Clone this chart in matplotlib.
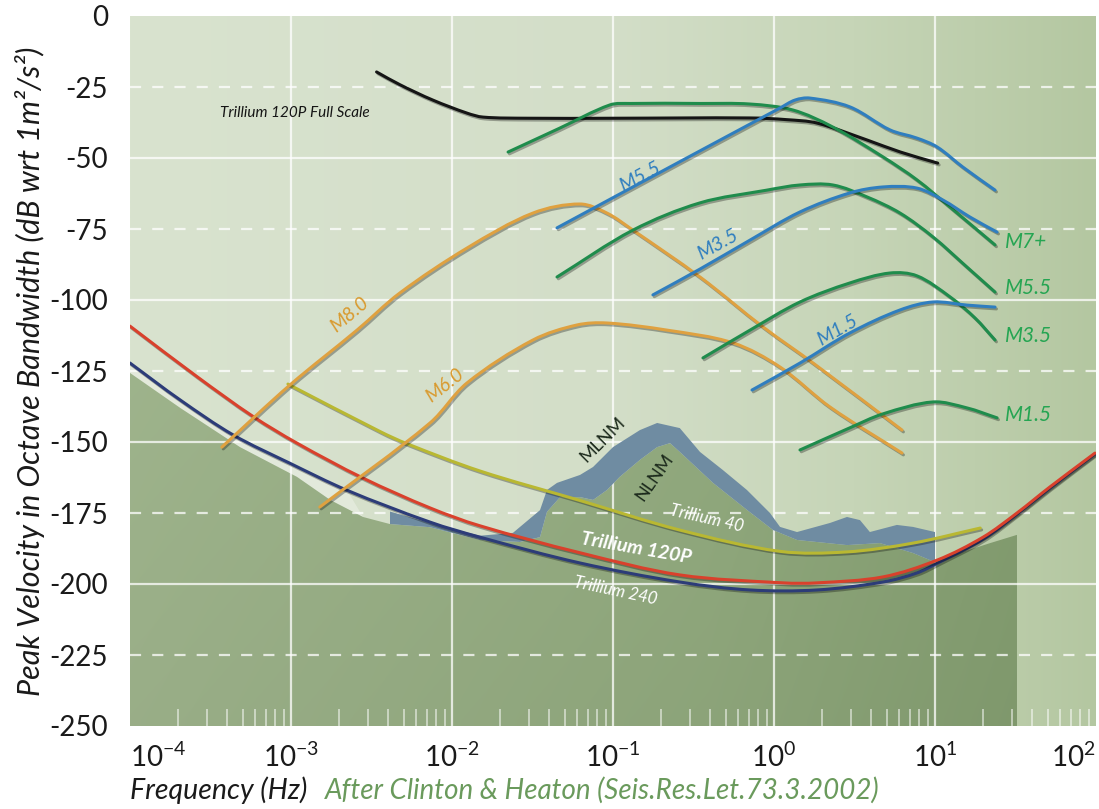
import matplotlib.pyplot as plt
import matplotlib.patheffects as pe
import numpy as np
from matplotlib.colors import to_rgb
from matplotlib.patches import PathPatch, Polygon
from matplotlib.path import Path
from matplotlib.ticker import NullFormatter

plt.rcParams["font.family"] = ["Lato", "DejaVu Sans"]

X_MIN, X_MAX = 1e-4, 1e2
Y_MIN, Y_MAX = -250, 0
Y_TICKS = [0, -25, -50, -75, -100, -125, -150, -175, -200, -225, -250]
Y_TICK_LABELS = ["0", "-25", "-50", "-75", "-100", "-125", "-150", "-175", "-200", "-225", "-250"]
X_DECADES = [1e-4, 1e-3, 1e-2, 1e-1, 1e0, 1e1, 1e2]
X_TICK_LABELS = [r"$\mathregular{10^{-4}}$", r"$\mathregular{10^{-3}}$", r"$\mathregular{10^{-2}}$",
                 r"$\mathregular{10^{-1}}$", r"$\mathregular{10^{0}}$", r"$\mathregular{10^{1}}$",
                 r"$\mathregular{10^{2}}$"]

# Trillium 120P full scale clip level
full_scale_freq = [3.4e-3, 4.75e-3, 7.6e-3, 1.24e-2, 1.56e-2, 3.0e-2, 0.1, 0.71, 1.2, 1.85, 3.8, 6.1, 10.4]
full_scale_db = [-19.7, -24.2, -29.6, -34.2, -35.6, -36.0, -36.0, -35.9, -36.5, -37.7, -43.7, -47.9, -51.8]

# earthquake spectra, green family
green_m7_freq = [0.0223, 0.0462, 0.0958, 0.128, 0.347, 0.71, 1.31, 2.32, 4.75, 7.73, 12.4, 23.6]
green_m7_db = [-47.9, -39.6, -31.3, -30.8, -30.8, -31.0, -33.1, -39.1, -49.6, -57.7, -67.3, -80.6]
green_m55_freq = [0.0449, 0.133, 0.347, 0.906, 1.45, 2.32, 3.78, 6.07, 9.72, 15.8, 23.6]
green_m55_db = [-91.9, -75.4, -65.8, -61.3, -59.5, -59.5, -63.7, -69.4, -77.8, -88.4, -97.2]
green_m35_freq = [0.362, 0.71, 1.45, 2.96, 5.25, 7.73, 12.4, 17.7, 23.6]
green_m35_db = [-120.4, -110.6, -100.7, -94.0, -90.5, -91.5, -98.9, -106.3, -114.1]
green_m15_freq = [1.45, 2.96, 4.75, 9.72, 15.8, 24.3]
green_m15_db = [-152.8, -145.0, -140.1, -135.9, -138.0, -141.5]

# earthquake spectra, blue family
blue_m55_freq = [0.0449, 0.26, 1.09, 1.35, 1.67, 2.96, 5.25, 7.73, 10.3, 14.9, 23.6]
blue_m55_db = [-74.6, -51.3, -32.4, -29.6, -28.9, -32.0, -40.1, -43.0, -46.1, -53.2, -61.3]
blue_m35_freq = [0.177, 0.347, 0.71, 1.45, 2.96, 4.75, 7.73, 11.2, 16.5, 24.3]
blue_m35_db = [-98.2, -89.1, -78.9, -69.0, -62.3, -60.2, -60.6, -64.8, -70.8, -76.1]
blue_m15_freq = [0.73, 1.45, 2.96, 6.07, 9.72, 15.8, 23.6]
blue_m15_db = [-131.7, -122.2, -111.6, -103.5, -100.7, -101.8, -102.5]

# teleseismic events
orange_m80_freq = [3.72e-4, 9.86e-4, 2.57e-3, 4.75e-3, 1.24e-2, 3.18e-2, 6.24e-2, 9.18e-2, 0.133, 0.347,
                   0.855, 1.75, 6.24]
orange_m80_db = [-151.8, -129.9, -110.6, -97.5, -81.7, -69.4, -66.2, -69.4, -75.4, -91.9, -109.5, -122.2,
                 -145.8]
orange_m60_freq = [1.51e-3, 7.3e-3, 1.24e-2, 3.18e-2, 5.97e-2, 9.18e-2, 0.216, 0.556, 1.09, 2.23, 6.24]
orange_m60_db = [-172.9, -143.3, -129.2, -114.1, -108.8, -108.1, -110.6, -115.1, -123.6, -137.7, -153.9]

# instrument self-noise
t120_freq = [1e-4, 2.61e-4, 5.81e-4, 1.09e-3, 2.8e-3, 7.3e-3, 1.49e-2, 6.24e-2, 0.26, 1.14, 1.85, 4.75,
             10.4, 19.9, 32.3, 51.8, 98.6]
t120_db = [-109.2, -127.0, -141.0, -150.4, -162.7, -173.2, -179.5, -189.0, -196.8, -199.6, -199.6, -197.5,
           -191.5, -183.5, -175.0, -165.8, -153.9]
t240_freq = [1e-4, 2.05e-4, 4.37e-4, 9.86e-4, 2.23e-3, 7.3e-3, 1.49e-2, 6.24e-2, 0.26, 0.71, 1.85, 4.75,
             7.73, 10.4, 19.9, 32.3, 51.8, 98.6]
t240_db = [-122.2, -135.2, -147.5, -157.5, -167.0, -178.2, -183.5, -192.6, -199.3, -202.1, -202.1, -199.3,
           -196.1, -192.6, -184.2, -175.4, -166.2, -154.2]
t40_freq = [9.57e-4, 3.57e-3, 5.25e-3, 1.49e-2, 6.24e-2, 0.26, 1.09, 2.84, 7.3, 19.1]
t40_db = [-129.6, -146.3, -150.6, -160.2, -170.6, -181.0, -188.5, -188.7, -185.6, -180.3]

# noise models
mlnm_freq = [4.12e-3, 7.3e-3, 1.49e-2, 2.39e-2, 3.52e-2, 3.89e-2, 4.49e-2, 6.24e-2, 7.52e-2, 0.1, 0.147,
             0.188, 0.26, 0.347, 0.482, 0.679, 0.944, 1.09, 1.39, 2.23, 2.84, 3.42, 3.94, 5.8, 7.3, 10.0]
mlnm_db = [-174.5, -178.5, -183.0, -182.0, -174.0, -166.9, -164.4, -161.6, -158.8, -151.8, -145.8,
           -143.3, -145.1, -153.5, -159.9, -166.9, -175.0, -179.9, -181.7, -178.5, -176.4, -177.5, -181.7,
           -179.2, -179.9, -181.7]
nlnm_freq = [4.12e-3, 7.3e-3, 1.49e-2, 2.64e-2, 3.52e-2, 3.89e-2, 4.69e-2, 6.24e-2, 7.52e-2, 9.18e-2,
             0.11, 0.147, 0.188, 0.226, 0.26, 0.418, 0.679, 0.986, 1.39, 2.84, 4.55, 7.3, 10.0]
nlnm_db = [-178.9, -180.0, -184.5, -185.2, -183.5, -174.6, -169.4, -169.4, -170.4, -166.9, -162.3,
           -156.3, -151.8, -150.4, -153.5, -164.4, -173.9, -181.0, -184.5, -186.3, -185.6, -189.1, -192.3]

# upper edge of the shaded low-noise floor outside the NLNM range
floor_left_freq = [1e-4, 2.05e-4, 4.82e-4, 1.09e-3, 1.75e-3, 2.8e-3]
floor_left_db = [-125.7, -138.0, -151.8, -162.3, -170.4, -176.4]
floor_right_freq = [14.3, 22.0, 32.3]
floor_right_db = [-189.0, -185.6, -182.7]

# pixels per decade and per dB, only used to keep the curve smoothing isotropic
PX_PER_DECADE = 161.0
PX_PER_DB = 2.84


def gradient(stops, width=512, height=2, darken=0.0):
    positions = [p for p, _ in stops]
    rgb = np.array([to_rgb(c) for _, c in stops])
    xs = np.linspace(0, 1, width)
    row = np.stack([np.interp(xs, positions, rgb[:, k]) for k in range(3)], axis=-1)
    shade = 1.0 - darken * np.linspace(0, 1, height)[:, None, None]
    return np.clip(row[None, :, :] * shade, 0, 1)


def bezier_vertices(freq, db):
    # cubic Bezier through the read points (in log-frequency space)
    p = np.column_stack([np.log10(freq) * PX_PER_DECADE, np.asarray(db, float) * PX_PER_DB])
    d = np.hypot(*np.diff(p, axis=0).T)
    n = len(p)
    tangent = np.zeros_like(p)
    tangent[0] = (p[1] - p[0]) / d[0]
    tangent[-1] = (p[-1] - p[-2]) / d[-1]
    for i in range(1, n - 1):
        tangent[i] = (p[i + 1] - p[i - 1]) / (d[i - 1] + d[i])
    verts = [p[0]]
    codes = [Path.MOVETO]
    for i in range(n - 1):
        verts += [p[i] + tangent[i] * d[i] / 3, p[i + 1] - tangent[i + 1] * d[i] / 3, p[i + 1]]
        codes += [Path.CURVE4] * 3
    verts = np.array(verts)
    verts = np.column_stack([10 ** (verts[:, 0] / PX_PER_DECADE), verts[:, 1] / PX_PER_DB])
    return verts, codes


def draw_curve(axis, freq, db, color, zorder=5, lw=2.2):
    verts, codes = bezier_vertices(freq, db)
    patch = PathPatch(
        Path(verts, codes), facecolor="none", edgecolor=color, lw=lw, capstyle="round",
        joinstyle="round", zorder=zorder,
        path_effects=[pe.SimpleLineShadow(offset=(1.0, -1.3), alpha=0.3), pe.Normal()],
    )
    axis.add_patch(patch)


figure = plt.figure(figsize=(10.99, 8.09), dpi=100)
axis = figure.add_axes([130 / 1099, 1 - 726 / 809, 966 / 1099, 710 / 809])
axis.set_xscale("log")

background = gradient([(0.0, "#d9e3cf"), (0.5, "#d3dec8"), (0.75, "#c6d5b7"), (1.0, "#b4c7a1")])
axis.imshow(background, extent=[0, 1, 0, 1], transform=axis.transAxes, aspect="auto",
            interpolation="bilinear", zorder=0)

# pale strip between the Trillium 240 curve and the shaded floor
strip_freq = t240_freq[:5] + floor_left_freq[::-1]
strip_db = t240_db[:5] + floor_left_db[::-1]
axis.fill(strip_freq, strip_db, color="#e6ecdf", alpha=0.8, lw=0, zorder=0.5)

# shaded floor below the low-noise model
floor_freq = floor_left_freq + nlnm_freq + floor_right_freq
floor_db = floor_left_db + nlnm_db + floor_right_db
floor_vertices = np.column_stack([
    floor_freq + [floor_right_freq[-1], X_MIN],
    floor_db + [Y_MIN, Y_MIN],
])
floor_patch = Polygon(floor_vertices, closed=True, facecolor="none", edgecolor="none",
                      transform=axis.transData)
axis.add_patch(floor_patch)
floor_image = axis.imshow(
    gradient([(0.0, "#a3b990"), (0.6, "#95ae81"), (1.0, "#849f70")], height=64, darken=0.06),
    extent=[0, 1, 0, 1], transform=axis.transAxes, aspect="auto", interpolation="bilinear", zorder=1,
)
floor_image.set_clip_path(floor_patch)

# grid
for decade in X_DECADES[1:-1]:
    axis.axvline(decade, color="white", lw=1.6, alpha=0.75, zorder=2)
for level in Y_TICKS[1:-1]:
    style = (0, (5, 5)) if level % 50 else "-"
    axis.axhline(level, color="white", lw=1.6, alpha=0.75, linestyle=style, zorder=2)

# MLNM band
axis.fill(mlnm_freq + nlnm_freq[::-1], mlnm_db + nlnm_db[::-1], color="#6f8ca2", lw=0, zorder=3)

GREEN = "#1f8c4c"
BLUE = "#2f7ebf"
ORANGE = "#dfa140"

draw_curve(axis, full_scale_freq, full_scale_db, "#151515")
for freq, db in [(orange_m80_freq, orange_m80_db), (orange_m60_freq, orange_m60_db)]:
    draw_curve(axis, freq, db, ORANGE)
for freq, db in [(green_m7_freq, green_m7_db), (green_m55_freq, green_m55_db),
                 (green_m35_freq, green_m35_db), (green_m15_freq, green_m15_db)]:
    draw_curve(axis, freq, db, GREEN)
for freq, db in [(blue_m55_freq, blue_m55_db), (blue_m35_freq, blue_m35_db), (blue_m15_freq, blue_m15_db)]:
    draw_curve(axis, freq, db, BLUE)

draw_curve(axis, t40_freq, t40_db, "#b9b832", zorder=4)
draw_curve(axis, t240_freq, t240_db, "#2c3c78", zorder=4)
draw_curve(axis, t120_freq, t120_db, "#d9412c", zorder=4)

# annotations
label_style = dict(ha="center", va="center", rotation_mode="anchor", zorder=6, style="italic")
axis.text(3.62e-4, -34.2, "Trillium 120P Full Scale", ha="left", va="center", fontsize=11,
          style="italic", color="#151515", zorder=6)
axis.text(0.147, -56.7, "M5.5", rotation=28, fontsize=14, color=BLUE, **label_style)
axis.text(0.449, -80.6, "M3.5", rotation=29, fontsize=14, color=BLUE, **label_style)
axis.text(2.46, -110.6, "M1.5", rotation=30, fontsize=14, color=BLUE, **label_style)
for db, text in [(-79.6, "M7+"), (-95.8, "M5.5"), (-112.7, "M3.5"), (-140.5, "M1.5")]:
    axis.text(27.2, db, text, ha="left", va="center", fontsize=15, style="italic", color="#25a552",
              zorder=6)
axis.text(2.32e-3, -105.3, "M8.0", rotation=40, fontsize=14, color="#d99a2e", **label_style)
axis.text(9.06e-3, -129.9, "M6.0", rotation=38, fontsize=14, color="#d99a2e", **label_style)
axis.text(8.67e-2, -149.3, "MLNM", rotation=45, fontsize=13, color="#1c2a1c", ha="center", va="center",
          rotation_mode="anchor", zorder=6)
axis.text(0.182, -162.3, "NLNM", rotation=55, fontsize=13, color="#1c2a1c", ha="center", va="center",
          rotation_mode="anchor", zorder=6)
axis.text(0.384, -176.8, "Trillium 40", rotation=-13, fontsize=12, color="white", **label_style)
axis.text(0.139, -187.3, "Trillium 120P", rotation=-10, fontsize=14, color="white", weight="bold",
          **label_style)
axis.text(0.104, -202.5, "Trillium 240", rotation=-12, fontsize=12, color="white", **label_style)

# axes
axis.set_xlim(X_MIN, X_MAX)
axis.set_ylim(Y_MIN, Y_MAX)
axis.set_xticks(X_DECADES)
axis.set_xticklabels(X_TICK_LABELS)
axis.xaxis.set_minor_formatter(NullFormatter())
axis.set_yticks(Y_TICKS)
axis.set_yticklabels(Y_TICK_LABELS)
axis.tick_params(axis="x", which="major", length=0, pad=12, labelsize=20, colors="#1a1a1a")
axis.tick_params(axis="x", which="minor", direction="in", length=12, width=1.2, color=(1, 1, 1, 0.6))
axis.tick_params(axis="y", length=0, pad=16, labelsize=20, colors="#1a1a1a")
tick_labels = axis.get_xticklabels()
tick_labels[0].set_ha("left")
tick_labels[-1].set_ha("right")
for spine in axis.spines.values():
    spine.set_visible(False)

figure.text(30 / 1099, 1 - 371 / 809, "Peak Velocity in Octave Bandwidth (dB wrt 1m\u00b2/s\u00b2)",
            rotation=90, ha="center", va="center", fontsize=22, style="italic", color="#1a1a1a")
figure.text(130 / 1099, 1 - 790 / 809, "Frequency (Hz)", ha="left", va="center", fontsize=20.5,
            style="italic", color="#1a1a1a")
figure.text(325 / 1099, 1 - 790 / 809, "After Clinton & Heaton (Seis.Res.Let.73.3.2002)", ha="left",
            va="center", fontsize=20, style="italic", color="#6a9a5c")

figure.savefig("out.png", dpi=100)
